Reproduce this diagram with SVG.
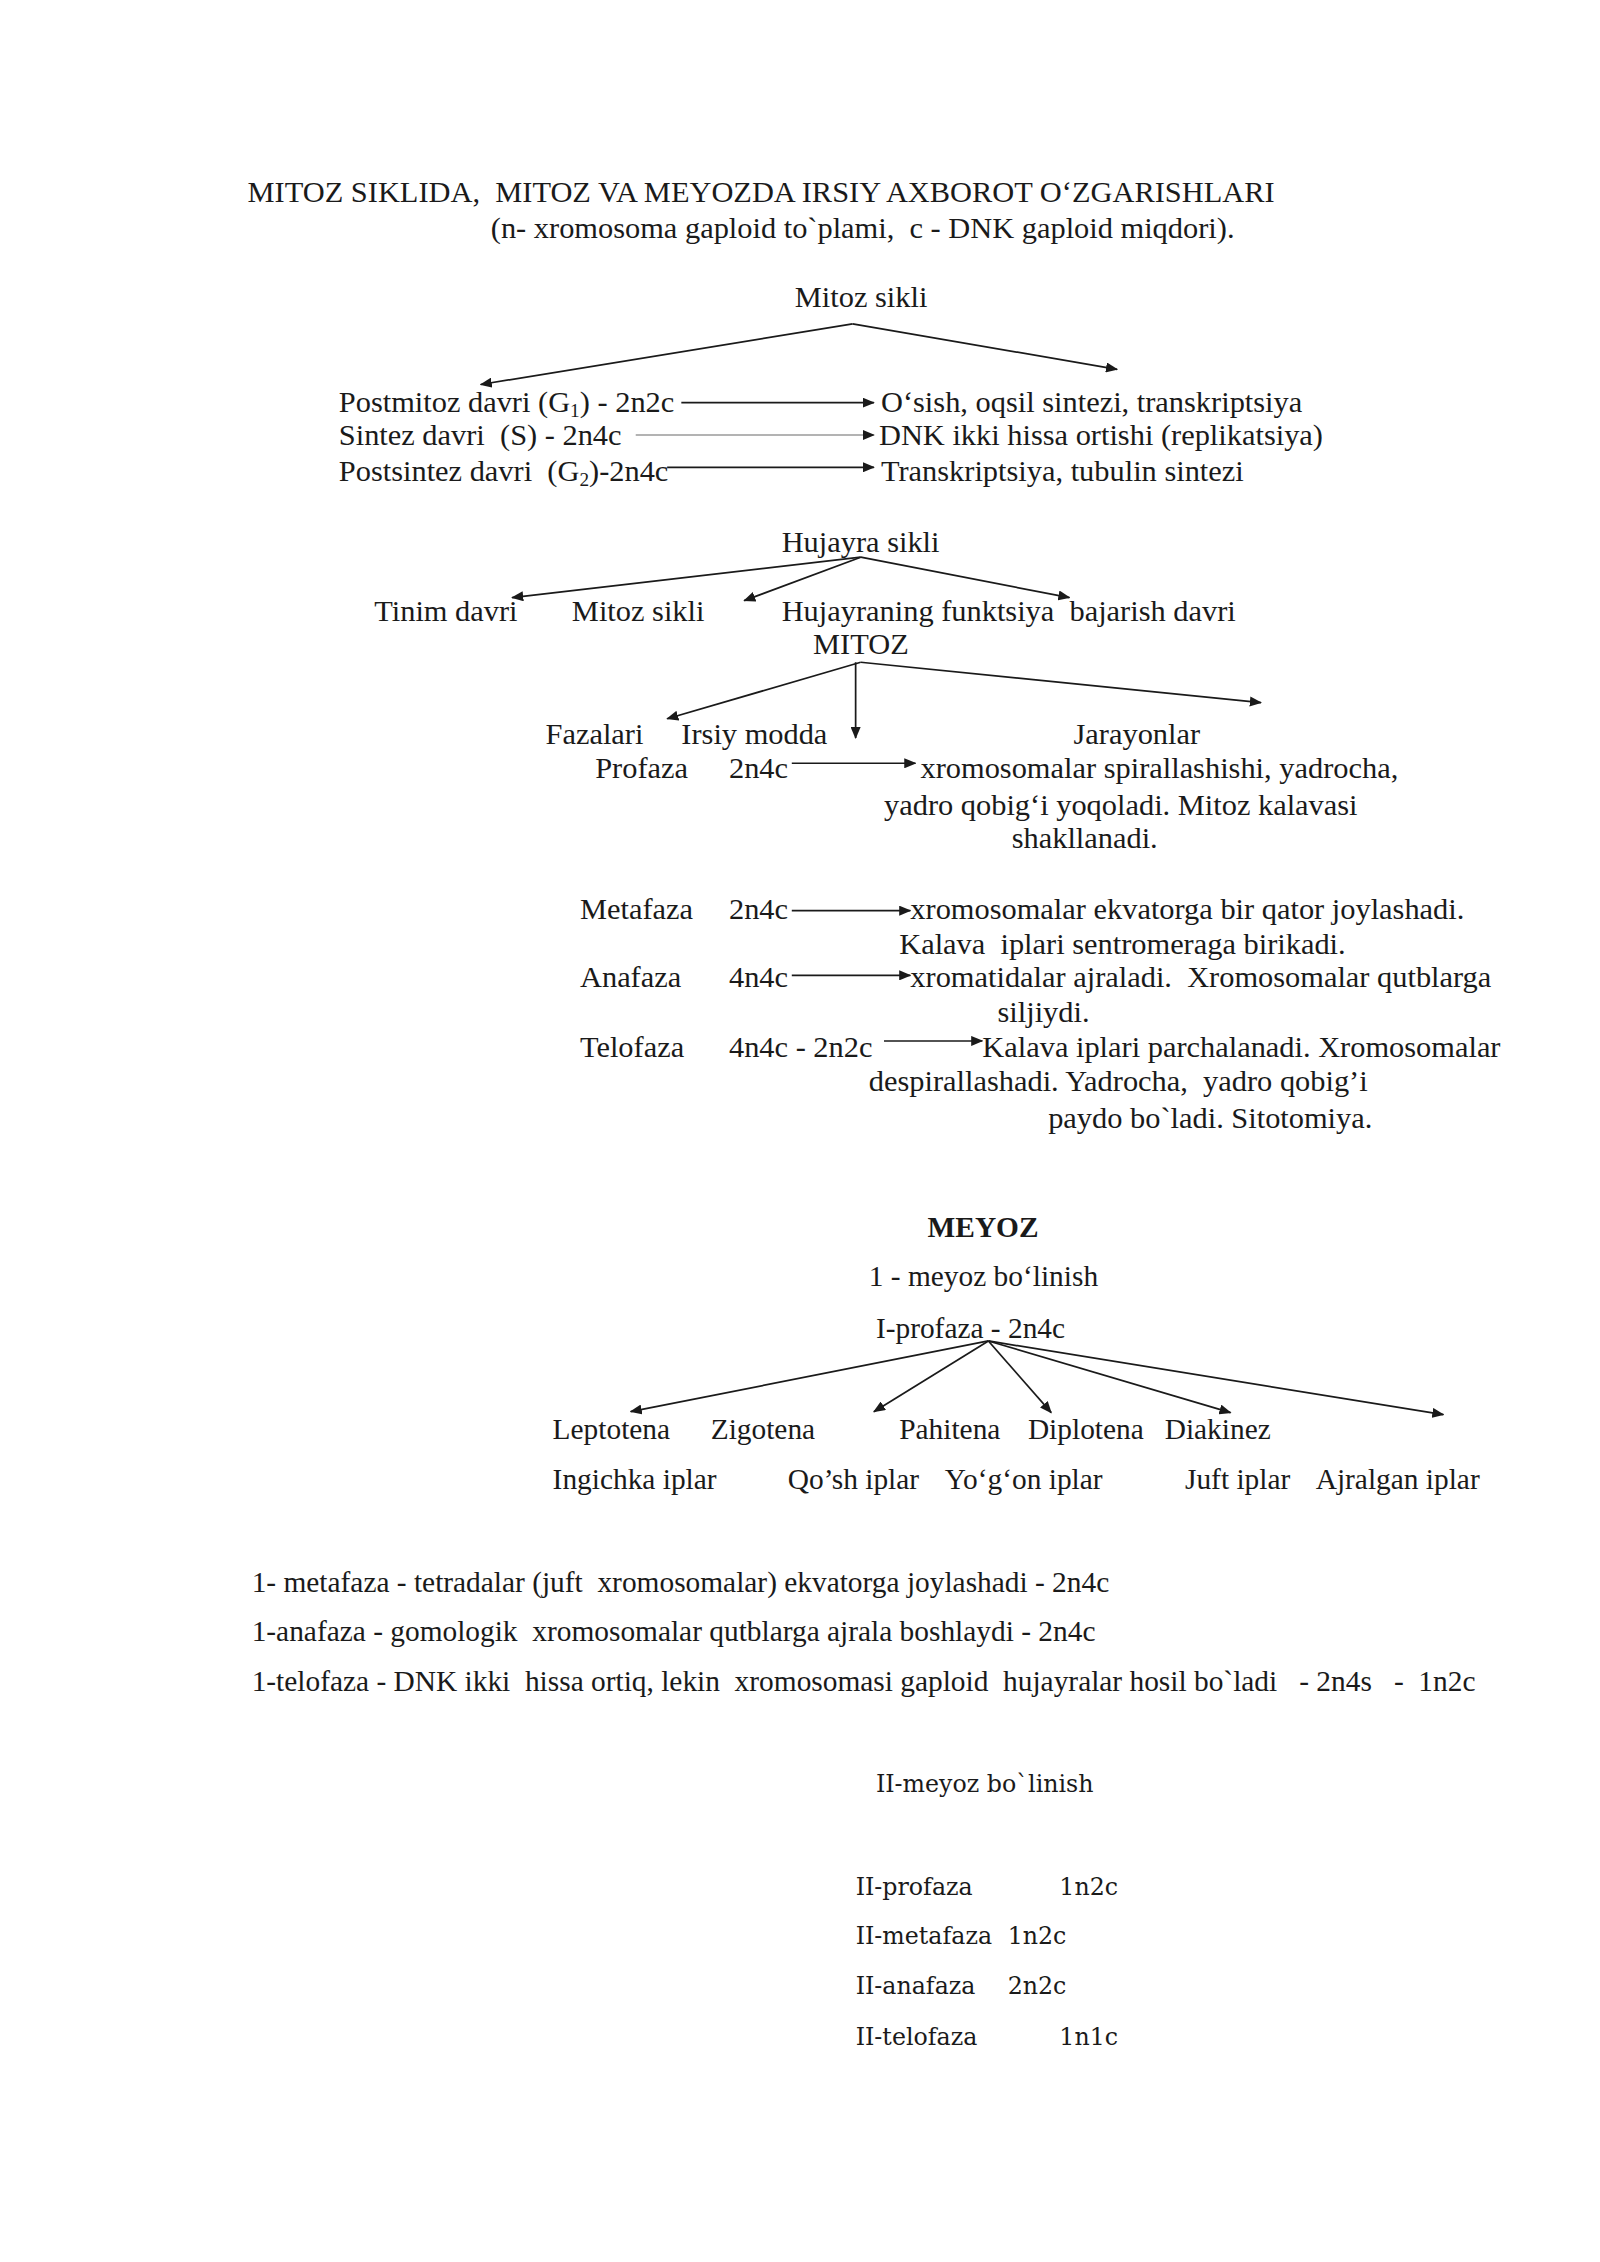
<svg xmlns="http://www.w3.org/2000/svg" width="1600" height="2262" viewBox="0 0 1600 2262">
<defs>
<marker id="ah" viewBox="0 0 12 10" refX="11" refY="5" markerWidth="12" markerHeight="10" markerUnits="userSpaceOnUse" orient="auto">
<path d="M0,0 L12,5 L0,10 z" fill="#1a1a1a"/>
</marker>
</defs>
<style>
text{font-family:"Liberation Serif","Times New Roman",serif;font-size:30px;fill:#1a1a1a;white-space:pre}
.m{font-size:29px}
.b{font-weight:bold}
.g{font-family:"DejaVu Serif",serif;font-size:23.4px}
.c{stroke:#1a1a1a;stroke-width:1.7;fill:none;marker-end:url(#ah)}
.gr{stroke:#9a9a9a}
</style>
<rect width="1600" height="2262" fill="#ffffff"/>
<g transform="translate(-1.7,1.7) scale(1.0134,1.0100)">
<g id="title">
<text x="246" y="198" xml:space="preserve">MITOZ SIKLIDA,  MITOZ VA MEYOZDA IRSIY AXBOROT O‘ZGARISHLARI</text>
<text x="486" y="234" xml:space="preserve">(n- xromosoma gaploid to`plami,  c - DNK gaploid miqdori).</text>
</g>
<g id="mitoz-sikli"><text x="786" y="302">Mitoz sikli</text></g>
<g id="postmitoz"><text x="336" y="406" xml:space="preserve">Postmitoz davri (G<tspan font-size="19" dy="5">1</tspan><tspan dy="-5">) - 2n2c</tspan></text></g>
<g id="sintez"><text x="336" y="439" xml:space="preserve">Sintez davri  (S) - 2n4c</text></g>
<g id="postsintez"><text x="336" y="475" xml:space="preserve">Postsintez davri  (G<tspan font-size="19" dy="5">2</tspan><tspan dy="-5">)-2n4c</tspan></text></g>
<g id="osish"><text x="871" y="406">O‘sish, oqsil sintezi, transkriptsiya</text></g>
<g id="dnk"><text x="869" y="439">DNK ikki hissa ortishi (replikatsiya)</text></g>
<g id="transkr"><text x="871" y="475">Transkriptsiya, tubulin sintezi</text></g>
<g id="hujayra-sikli"><text x="773" y="545">Hujayra sikli</text></g>
<g id="tinim"><text x="371" y="613">Tinim davri</text></g>
<g id="mitoz-sikli-2"><text x="566" y="613">Mitoz sikli</text></g>
<g id="funktsiya"><text x="773" y="613" xml:space="preserve">Hujayraning funktsiya  bajarish davri</text></g>
<g id="mitoz"><text x="804" y="646">MITOZ</text></g>
<g id="fazalari"><text x="540" y="735">Fazalari</text></g>
<g id="irsiy"><text x="674" y="735">Irsiy modda</text></g>
<g id="jarayonlar"><text x="1061" y="735">Jarayonlar</text></g>
<g id="profaza">
<text x="589" y="769">Profaza</text>
<text x="721" y="769">2n4c</text>
<text x="910" y="769">xromosomalar spirallashishi, yadrocha,</text>
<text x="874" y="805">yadro qobig‘i yoqoladi. Mitoz kalavasi</text>
<text x="1000" y="838">shakllanadi.</text>
</g>
<g id="metafaza">
<text x="574" y="908">Metafaza</text>
<text x="721" y="908">2n4c</text>
<text x="900" y="908">xromosomalar ekvatorga bir qator joylashadi.</text>
<text x="889" y="943" xml:space="preserve">Kalava  iplari sentromeraga birikadi.</text>
</g>
<g id="anafaza">
<text x="574" y="976">Anafaza</text>
<text x="721" y="976">4n4c</text>
<text x="900" y="976" xml:space="preserve">xromatidalar ajraladi.  Xromosomalar qutblarga</text>
<text x="986" y="1010">siljiydi.</text>
</g>
<g id="telofaza">
<text x="574" y="1045">Telofaza</text>
<text x="721" y="1045">4n4c - 2n2c</text>
<text x="971" y="1045">Kalava iplari parchalanadi. Xromosomalar</text>
<text x="859" y="1079" xml:space="preserve">despirallashadi. Yadrocha,  yadro qobig’i</text>
<text x="1036" y="1115">paydo bo`ladi. Sitotomiya.</text>
</g>
<g id="meyoz"><text class="m b" x="917" y="1223">MEYOZ</text></g>
<g id="meyoz1"><text class="m" x="859" y="1272">1 - meyoz bo‘linish</text></g>
<g id="iprofaza"><text class="m" x="866" y="1323">I-profaza - 2n4c</text></g>
<g id="leptotena"><text class="m" x="547" y="1423">Leptotena</text><text class="m" x="547" y="1473">Ingichka iplar</text></g>
<g id="zigotena"><text class="m" x="703" y="1423">Zigotena</text><text class="m" x="779" y="1473">Qo’sh iplar</text></g>
<g id="pahitena"><text class="m" x="889" y="1423">Pahitena</text><text class="m" x="934" y="1473">Yo‘g‘on iplar</text></g>
<g id="diplotena"><text class="m" x="1016" y="1423">Diplotena</text><text class="m" x="1171" y="1473">Juft iplar</text></g>
<g id="diakinez"><text class="m" x="1151" y="1423">Diakinez</text><text class="m" x="1300" y="1473">Ajralgan iplar</text></g>
<g id="meyoz1-faz">
<text class="m" x="250" y="1575" xml:space="preserve">1- metafaza - tetradalar (juft  xromosomalar) ekvatorga joylashadi - 2n4c</text>
<text class="m" x="250" y="1623" xml:space="preserve">1-anafaza - gomologik  xromosomalar qutblarga ajrala boshlaydi - 2n4c</text>
<text class="m" x="250" y="1673" xml:space="preserve">1-telofaza - DNK ikki  hissa ortiq, lekin  xromosomasi gaploid  hujayralar hosil bo`ladi   - 2n4s   -  1n2c</text>
</g>
<g id="meyoz2">
<text class="g" x="866" y="1773">II-meyoz bo`linish</text>
<text class="g" x="846" y="1875">II-profaza</text><text class="g" x="1047" y="1875">1n2c</text>
<text class="g" x="846" y="1923">II-metafaza</text><text class="g" x="996" y="1923">1n2c</text>
<text class="g" x="846" y="1973">II-anafaza</text><text class="g" x="996" y="1973">2n2c</text>
<text class="g" x="846" y="2023">II-telofaza</text><text class="g" x="1047" y="2023">1n1c</text>
</g>
<g id="connectors">
<path class="c" d="M843,319 L476,379"/>
<path class="c" d="M843,319 L1104,364"/>
<path class="c" d="M674,397 L864,397"/>
<path class="c gr" d="M629,429 L864,429"/>
<path class="c" d="M660,461 L864,461"/>
<path class="c" d="M851,550 L507,590"/>
<path class="c" d="M851,550 L736,593"/>
<path class="c" d="M851,550 L1057,590"/>
<path class="c" d="M851,654 L660,710"/>
<path class="c" d="M846,654 L846,729"/>
<path class="c" d="M851,654 L1246,694"/>
<path class="c" d="M783,754 L905,754"/>
<path class="c" d="M783,900 L900,900"/>
<path class="c" d="M783,964 L900,964"/>
<path class="c" d="M874,1029 L971,1029"/>
<path class="c" d="M977,1326 L624,1396"/>
<path class="c" d="M977,1326 L864,1396"/>
<path class="c" d="M977,1326 L1039,1397"/>
<path class="c" d="M977,1326 L1216,1397"/>
<path class="c" d="M977,1326 L1426,1399"/>
</g>
</g>
</svg>
